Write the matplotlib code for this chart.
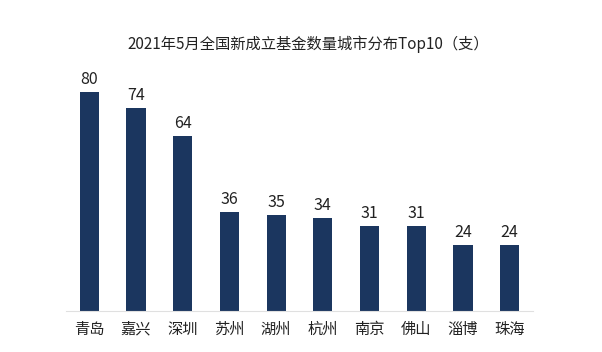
import matplotlib
matplotlib.use("Agg")
import matplotlib.pyplot as plt

plt.rcParams['font.family'] = ['Noto Sans CJK SC', 'DejaVu Sans']

cities = ['青岛', '嘉兴', '深圳', '苏州', '湖州', '杭州', '南京', '佛山', '淄博', '珠海']
counts = [80, 74, 64, 36, 35, 34, 31, 31, 24, 24]
title = '2021年5月全国新成立基金数量城市分布Top10（支）'

fig = plt.figure(figsize=(6.02, 3.52), dpi=100)
ax = fig.add_axes([66/602, 41/352, 467/602, 231/352])
x = range(len(cities))
bars = ax.bar(x, counts, width=0.41, color='#1b365f')
ax.set_xlim(-0.5, len(cities) - 0.5)
ax.set_ylim(0, 231/2.7375)
for i, v in enumerate(counts):
    ax.annotate(str(v), (i, v), xytext=(0, 3), textcoords='offset points',
                ha='center', va='bottom', fontsize=11.5, color='#222222')
ax.set_xticks(list(x))
ax.set_xticklabels(cities, fontsize=11, color='#222222')
ax.tick_params(axis='x', length=0, pad=7)
ax.set_yticks([])
for s in ['top', 'right', 'left']:
    ax.spines[s].set_visible(False)
ax.spines['bottom'].set_color('#e0e0e0')
ax.spines['bottom'].set_linewidth(0.8)
fig.text(308/602, 1 - 44/352, title, ha='center', va='center', fontsize=11, color='#222222')
fig.savefig('out.png', dpi=100, facecolor='white')
